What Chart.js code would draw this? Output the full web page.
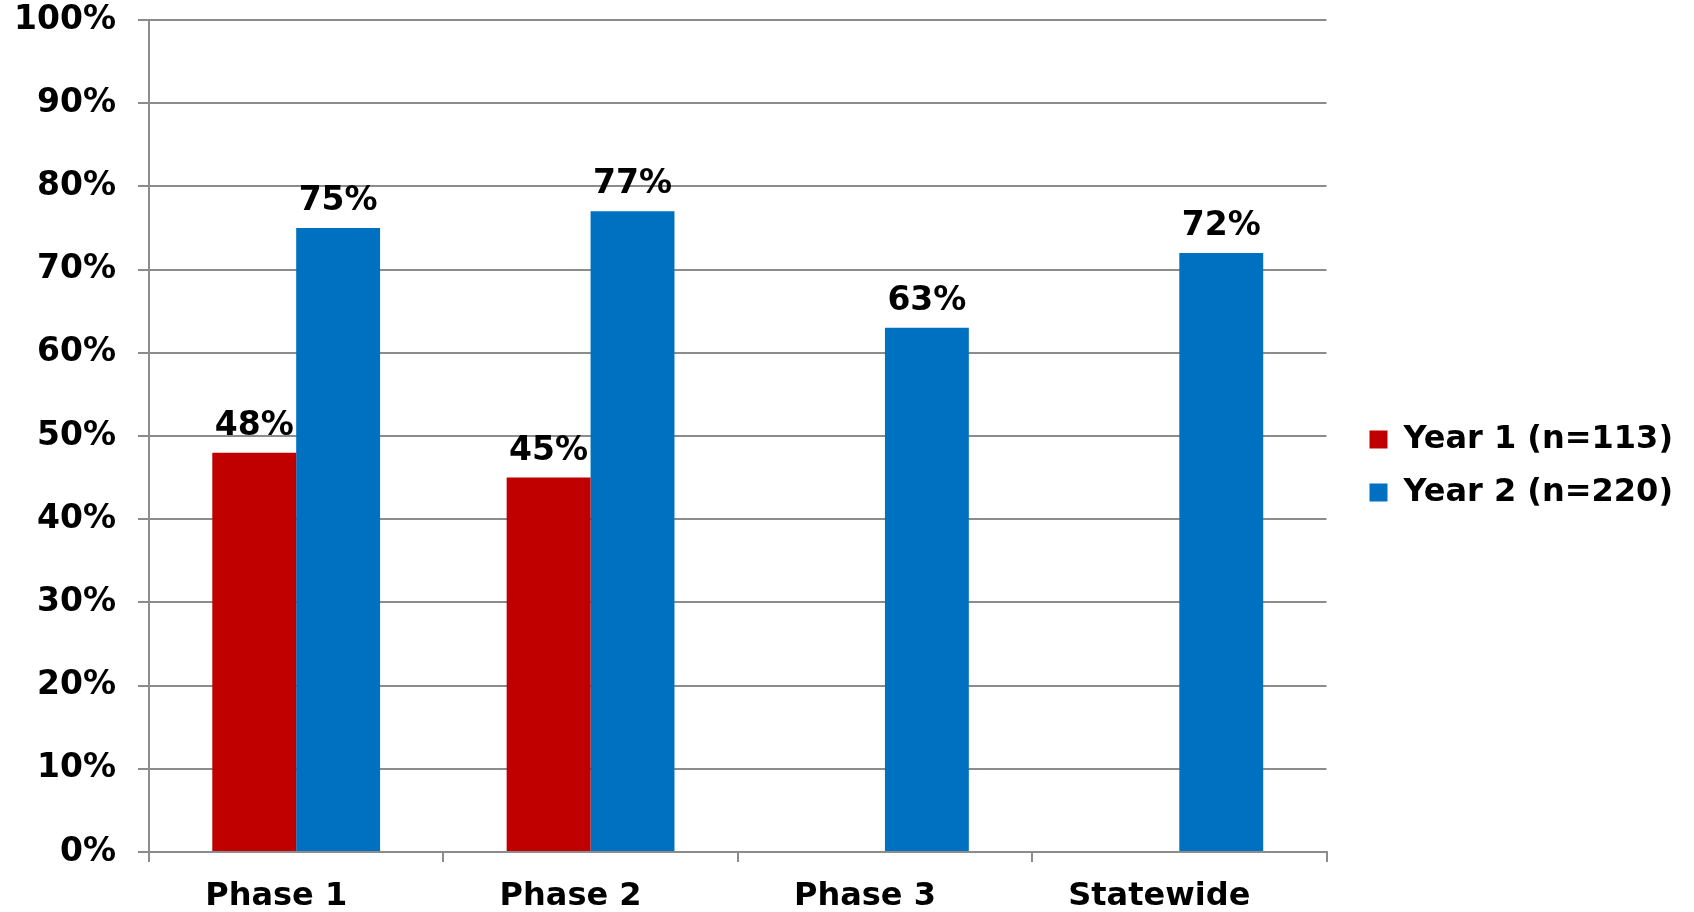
<!DOCTYPE html>
<html>
<head>
<meta charset="utf-8">
<title>Year 1 vs Year 2 by Phase</title>
<script src="https://cdn.jsdelivr.net/npm/chart.js@4/dist/chart.umd.min.js"></script>
<style>
    html, body { margin: 0; padding: 0; background: #ffffff; }
    #wrap { width: 1694px; height: 912px; }
</style>
</head>
<body>
<div id="wrap"><canvas id="chart" width="1694" height="912"></canvas></div>
<script>
// Chart data
const categories = ['Phase 1', 'Phase 2', 'Phase 3', 'Statewide'];
const year1Values = [48, 45, null, null];
const year2Values = [75, 77, 63, 72];
const seriesLabels = ['Year 1 (n=113)', 'Year 2 (n=220)'];
const yTicks = [0, 10, 20, 30, 40, 50, 60, 70, 80, 90, 100];

const FONT = '"DejaVu Sans", Verdana, sans-serif';
const GRID_COLOR = '#8c8c8c';

/**
 * Draws the percentage label above every bar
 */
const valueLabelPlugin = {
    id: 'valueLabels',
    afterDatasetsDraw(chart) {
        const ctx = chart.ctx;
        ctx.save();
        ctx.font = 'bold 33px ' + FONT;
        ctx.fillStyle = '#000000';
        ctx.textAlign = 'center';
        ctx.textBaseline = 'alphabetic';
        chart.data.datasets.forEach((ds, i) => {
            const meta = chart.getDatasetMeta(i);
            meta.data.forEach((bar, j) => {
                const v = ds.data[j];
                if (v === null || v === undefined) return;
                ctx.fillText(v + '%', bar.x, bar.y - 18);
            });
        });
        ctx.restore();
    }
};

/**
 * Leaves a gap between the plot area and the legend
 */
const legendGapPlugin = {
    id: 'legendGap',
    beforeDraw(chart) {
        const lg = chart.legend;
        if (!lg) return;
        const w = lg.right - lg.left;
        lg.left = chart.chartArea.right + 22;
        lg.right = lg.left + w;
    }
};

const ctx = document.getElementById('chart').getContext('2d');

new Chart(ctx, {
    type: 'bar',
    data: {
        labels: categories,
        datasets: [{
            label: seriesLabels[0],
            data: year1Values,
            backgroundColor: '#c00000',
            borderWidth: 0
        }, {
            label: seriesLabels[1],
            data: year2Values,
            backgroundColor: '#0070c0',
            borderWidth: 0
        }]
    },
    options: {
        responsive: false,
        animation: false,
        devicePixelRatio: 1,
        layout: {
            autoPadding: false,
            padding: { left: 0, right: 33, top: 20, bottom: 0 }
        },
        datasets: {
            bar: {
                categoryPercentage: 0.57,
                barPercentage: 1.0
            }
        },
        plugins: {
            legend: {
                position: 'right',
                labels: {
                    boxWidth: 18,
                    boxHeight: 18,
                    padding: 21,
                    color: '#000000',
                    font: { family: FONT, size: 32, weight: 'bold' }
                }
            },
            tooltip: { enabled: false }
        },
        scales: {
            x: {
                afterFit: axis => { axis.height = 60; },
                grid: {
                    display: true,
                    drawOnChartArea: false,
                    drawTicks: true,
                    tickLength: 10,
                    color: GRID_COLOR,
                    lineWidth: 2
                },
                border: { display: true, color: GRID_COLOR, width: 2 },
                ticks: {
                    color: '#000000',
                    padding: 15,
                    labelOffset: -20,
                    maxRotation: 0,
                    font: { family: FONT, size: 32, weight: 'bold' }
                }
            },
            y: {
                min: 0,
                max: 100,
                afterBuildTicks: axis => {
                    axis.ticks = yTicks.map(v => ({ value: v }));
                },
                afterFit: axis => {
                    axis.width = 149;
                    // labels already fit inside the top padding
                    axis.paddingTop = 0;
                    axis.paddingBottom = 0;
                },
                grid: {
                    color: GRID_COLOR,
                    lineWidth: 2,
                    tickLength: 11
                },
                border: { display: true, color: GRID_COLOR, width: 2 },
                ticks: {
                    color: '#000000',
                    padding: 22,
                    font: { family: FONT, size: 33, weight: 'bold' },
                    callback: v => v + '%'
                }
            }
        }
    },
    plugins: [valueLabelPlugin, legendGapPlugin]
});
</script>
</body>
</html>
